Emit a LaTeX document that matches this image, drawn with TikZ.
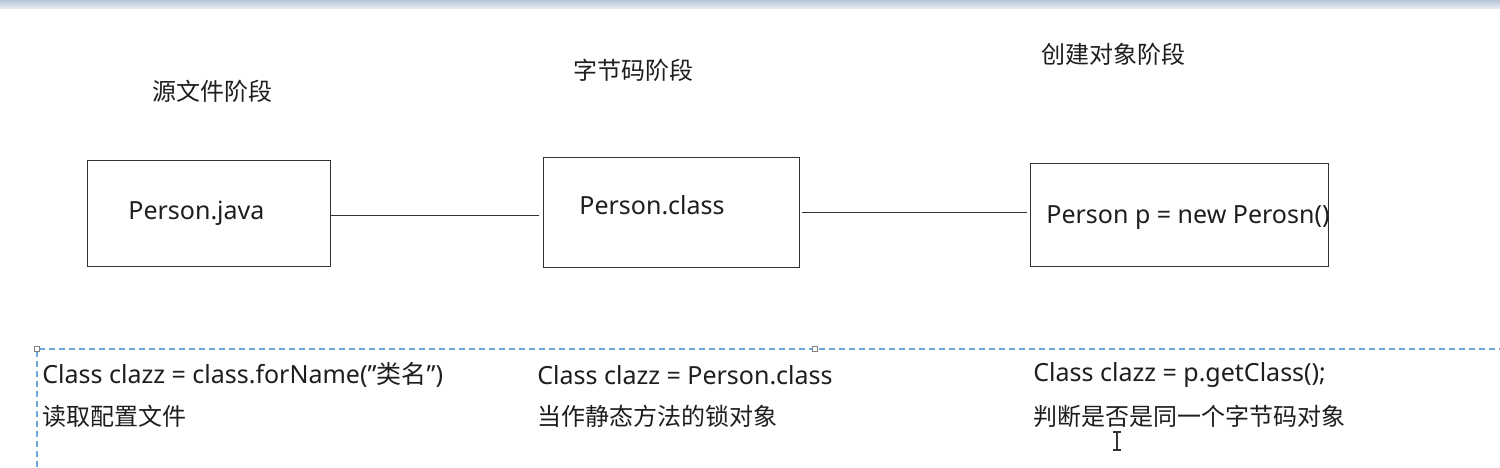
\documentclass[tikz,border=0pt]{standalone}
\usepackage{fontspec}
\setmainfont{Noto Sans}
\newfontfamily\cjk{Noto Sans CJK SC}
\definecolor{txt}{HTML}{1E1E1E}
\definecolor{selblue}{HTML}{6AA8E0}
\definecolor{barA}{HTML}{B8C4D8}
\definecolor{barB}{HTML}{E4E9F2}
\begin{document}
\begin{tikzpicture}[x=0.5pt,y=-0.5pt,
  box/.style={draw=black!80,line width=0.5pt,inner sep=0pt,anchor=north west},
  lbl/.style={anchor=west,inner sep=0pt,text=txt,font=\fontsize{12.5}{14}\selectfont},
  cjklbl/.style={lbl,font=\fontsize{12}{14}\cjk},
  conn/.style={draw=black!80,line width=0.5pt}]
\useasboundingbox (0,0) rectangle (1500,467);
\fill[white] (0,0) rectangle (1500,467);
\shade[top color=barA,bottom color=barB] (0,0) rectangle (1500,8);
% stage titles
\node[cjklbl] (t1) at (152,91) {源文件阶段};
\node[cjklbl] (t2) at (573,70) {字节码阶段};
\node[cjklbl] (t3) at (1041,54) {创建对象阶段};
% boxes
\node[box,minimum width=121.5pt,minimum height=53pt] (b1) at (87,160) {};
\node[box,minimum width=128pt,minimum height=55pt] (b2) at (543,157) {};
\node[box,minimum width=149pt,minimum height=51.5pt] (b3) at (1030,163) {};
\node[lbl] (p1) at (128,213) {Person.java};
\node[lbl] (p2) at (579,205) {Person.class};
\node[lbl] (p3) at (1046,218) {Person p = new Perosn()};
% connectors
\coordinate (c1a) at (330,215);
\coordinate (c1b) at (539,215);
\coordinate (c2a) at (802,212);
\coordinate (c2b) at (1027,212);
\draw[conn] (c1a) -- (c1b);
\draw[conn] (c2a) -- (c2b);
% selection frame
\draw[selblue,line width=0.6pt,dash pattern=on 3pt off 2pt] (37,467) -- (37,349) -- (1500,349);
\draw[gray,fill=white,line width=0.4pt] (34.5,346.5) rectangle (39.5,351.5);
\draw[gray,fill=white,line width=0.4pt] (812.5,346.5) rectangle (817.5,351.5);
% bottom texts
\node[lbl] (a1) at (42,375) {Class clazz = class.forName(\char"0022{\cjk 类名}\char"0022)};
\node[cjklbl] (a2) at (42,416) {读取配置文件};
\node[lbl] (b1t) at (537,375) {Class clazz = Person.class};
\node[cjklbl] (b2t) at (537,416) {当作静态方法的锁对象};
\node[lbl] (c1t) at (1033,375) {Class clazz = p.getClass();};
\node[cjklbl] (c2t) at (1033,416) {判断是否是同一个字节码对象};
% text cursor
\draw[black!80,line width=0.6pt] (1117,432) -- (1117,450) (1113,432) -- (1121,432) (1113,450) -- (1121,450);
\end{tikzpicture}
\end{document}
